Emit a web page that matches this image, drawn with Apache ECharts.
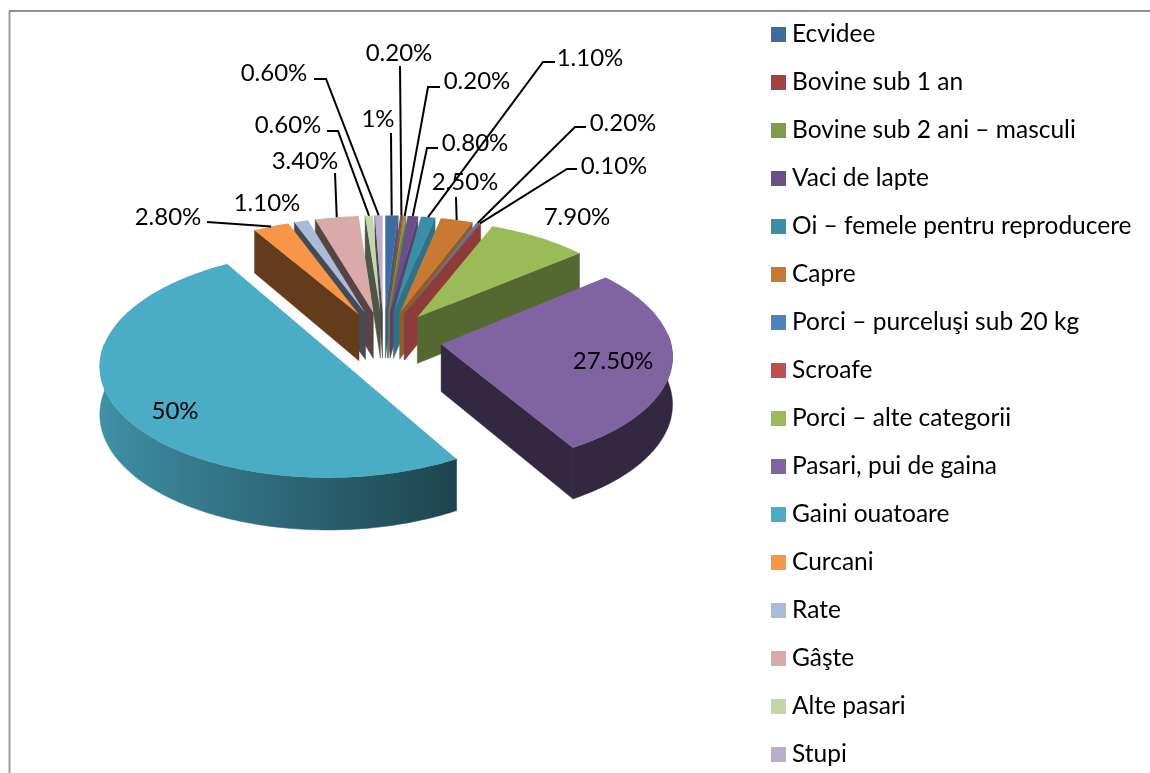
<!DOCTYPE html>
<html>
<head>
<meta charset="utf-8">
<style>
  html, body { margin: 0; padding: 0; background: #fff; }
  #main { width: 1150px; height: 773px; }
</style>
</head>
<body>
<div id="main"></div>
<script src="https://cdn.jsdelivr.net/npm/echarts@6/dist/echarts.min.js"></script>
<script>
const categories = ['Ecvidee', 'Bovine sub 1 an', 'Bovine sub 2 ani – masculi', 'Vaci de lapte',
  'Oi – femele pentru reproducere', 'Capre', 'Porci – purceluşi sub 20 kg', 'Scroafe',
  'Porci – alte categorii', 'Pasari, pui de gaina', 'Gaini ouatoare', 'Curcani', 'Rate',
  'Gâşte', 'Alte pasari', 'Stupi']
const values = [1, 0.2, 0.2, 0.8, 1.1, 2.5, 0.2, 0.1, 7.9, 27.5, 50, 2.8, 1.1, 3.4, 0.6, 0.6]
const valueLabels = ['1%', '0.20%', '0.20%', '0.80%', '1.10%', '2.50%', '0.20%', '0.10%',
  '7.90%', '27.50%', '50%', '2.80%', '1.10%', '3.40%', '0.60%', '0.60%']
const colors = ['#3f6c9f', '#a04441', '#7f9c48', '#6a5087', '#3a8ea6', '#c87a33', '#4f81bd', '#c0504d',
  '#9bbb59', '#8064a2', '#4bacc6', '#f79646', '#aabad7', '#d9aaa9', '#c6d6ac', '#baaec9']

// label centre, then the leader's start and elbow (none for labels without a leader)
const labelPos = [[378, 119], [399, 53], [477, 81], [475, 143], [590, 58], [465, 182], [623, 123], [614, 166],
  [577, 217], [613, 361], [175, 411], [168, 217], [267, 203], [305, 161], [288, 125], [274, 73]]
const leaderPath = [[[391, 133]], [[400, 66]], [[440, 87], [428, 87]], [[438, 148], [427, 148]],
  [[555, 62], [543, 62]], [[456, 197]], [[586, 127], [575, 127]], [[577, 169], [567, 169]],
  null, null, null, [[207, 222]], null, [[335, 173]], [[327, 131], [338, 131]], [[314, 79], [326, 79]]]

const CX = 383.6
const CY = 339.4
const RX = 229
const RY = 110
const DEPTH = 47
const PERSP = 0.09
const EXPLODE = 0.254
const FONT = '24px Lato'

const total = values.reduce((a, b) => a + b, 0)
const rad = d => d * Math.PI / 180
let run = 0
const angles = values.map(v => {
  const start = run / total * 360
  run += v
  return [start, run / total * 360]
})

function project(x, z, drop) {
  const s = 1 / (1 + PERSP * z)
  return [CX + RX * x * s, CY - RY * z * s + drop * s]
}

function slicePoint(i, deg, r, drop) {
  const mid = rad((angles[i][0] + angles[i][1]) / 2)
  return project(r * Math.sin(rad(deg)) + EXPLODE * Math.sin(mid), r * Math.cos(rad(deg)) + EXPLODE * Math.cos(mid), drop)
}

function shade(hex, f) {
  const n = parseInt(hex.slice(1), 16)
  const c = [n >> 16, (n >> 8) & 255, n & 255].map(v => Math.round(v * f))
  return 'rgb(' + c.join(',') + ')'
}

function arcDegs(a, b) {
  const out = []
  for (let d = a; d < b; d += 1) out.push(d)
  out.push(b)
  return out
}

function sideWall(i, deg, f) {
  const fill = shade(colors[i], f)
  return {
    type: 'polygon',
    shape: { points: [slicePoint(i, deg, 0, 0), slicePoint(i, deg, 1, 0), slicePoint(i, deg, 1, DEPTH), slicePoint(i, deg, 0, DEPTH)] },
    style: { fill: fill, stroke: fill, lineWidth: 0.5 }
  }
}

function frontWall(i) {
  const a = Math.max(angles[i][0], 85)
  const b = Math.min(angles[i][1], 275)
  if (a >= b) return null
  const degs = arcDegs(a, b)
  const top = degs.map(d => slicePoint(i, d, 1, 0))
  const bottom = degs.map(d => slicePoint(i, d, 1, DEPTH)).reverse()
  const xs = top.map(p => p[0])
  const xMin = Math.min(...xs)
  const span = Math.max(...xs) - xMin || 1
  const stops = degs.map((d, k) => ({
    offset: (xs[k] - xMin) / span,
    color: shade(colors[i], Math.max(0.4, 0.55 - 0.3 * Math.sin(rad(d))))
  })).sort((p, q) => p.offset - q.offset)
  const fill = new echarts.graphic.LinearGradient(0, 0, 1, 0, stops)
  return {
    type: 'polygon',
    shape: { points: top.concat(bottom) },
    style: { fill: fill, stroke: fill, lineWidth: 0.5 }
  }
}

function renderSlice(i) {
  const [a, b] = angles[i]
  const children = []
  const wall = frontWall(i)
  if (wall) children.push(wall)
  if (Math.sin(rad(a)) < -1e-6) children.push(sideWall(i, a, 0.4))
  if (Math.sin(rad(b)) > 1e-6) children.push(sideWall(i, b, Math.max(0.4, 0.88 - 0.0064 * b)))
  const rim = arcDegs(a, b).map(d => slicePoint(i, d, 1, 0))
  children.push({
    type: 'polygon',
    shape: { points: [slicePoint(i, a, 0, 0)].concat(rim) },
    style: { fill: colors[i] }
  })
  return { type: 'group', children: children }
}

function renderLabel(i) {
  const children = []
  if (leaderPath[i]) {
    const end = slicePoint(i, (angles[i][0] + angles[i][1]) / 2, 1, 0)
    children.push({
      type: 'polyline',
      shape: { points: leaderPath[i].concat([end]) },
      style: { stroke: '#000', lineWidth: 2, fill: 'transparent' }
    })
  }
  children.push({
    type: 'text',
    style: { text: valueLabels[i], x: labelPos[i][0], y: labelPos[i][1], fill: '#000', font: FONT, align: 'center', verticalAlign: 'middle' }
  })
  return { type: 'group', children: children }
}

// far slices first so the nearer ones paint over them
const paintOrder = categories.map((c, i) => i).sort((p, q) => {
  const mid = k => rad((angles[k][0] + angles[k][1]) / 2)
  return Math.cos(mid(q)) - Math.cos(mid(p))
})

const series = paintOrder.map((i, rank) => ({
  type: 'custom',
  name: categories[i],
  coordinateSystem: 'none',
  silent: true,
  z: 2 + rank,
  itemStyle: { color: colors[i] },
  data: [[values[i]]],
  renderItem: () => renderSlice(i)
}))

series.push({
  type: 'custom',
  name: 'labels',
  coordinateSystem: 'none',
  silent: true,
  z: 50,
  data: values.map(v => [v]),
  renderItem: params => renderLabel(params.dataIndex)
})

const chart = echarts.init(document.getElementById('main'), null, { renderer: 'canvas' })
chart.setOption({
  animation: false,
  backgroundColor: '#fff',
  legend: {
    data: categories,
    orient: 'vertical',
    left: 771,
    top: 22,
    padding: 0,
    itemGap: 23,
    itemWidth: 15,
    itemHeight: 15,
    icon: 'rect',
    selectedMode: false,
    textStyle: { color: '#000', fontFamily: 'Lato', fontSize: 24.5, padding: [0, 0, 0, 1], height: 25, lineHeight: 25 }
  },
  graphic: [
    { type: 'line', silent: true, shape: { x1: 9.5, y1: 11, x2: 9.5, y2: 773 }, style: { stroke: '#a0a0a0', lineWidth: 2 } },
    { type: 'line', silent: true, shape: { x1: 9, y1: 11, x2: 1150, y2: 11 }, style: { stroke: '#8f8f8f', lineWidth: 2 } }
  ],
  series: series
})
</script>
</body>
</html>
